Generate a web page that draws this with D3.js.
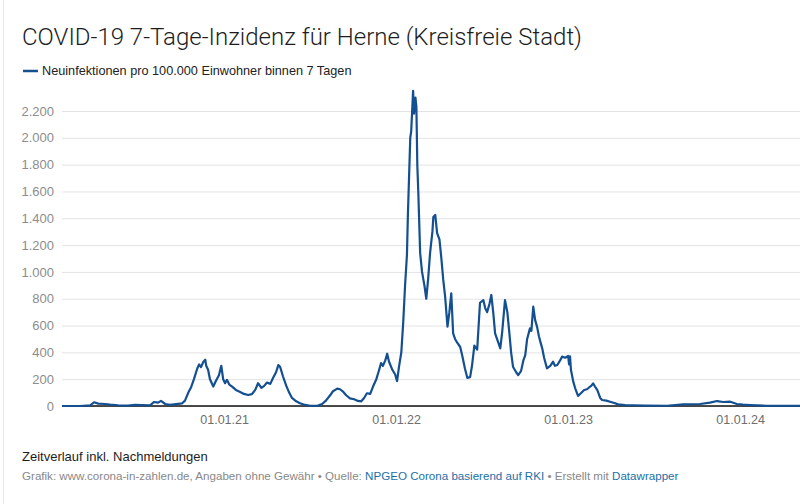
<!DOCTYPE html>
<html>
<head>
<meta charset="utf-8">
<script src="https://cdn.jsdelivr.net/npm/d3@7"></script>
<style>
  body { margin: 0; background: #fff; }
  svg { display: block; font-family: "Liberation Sans", Arial, sans-serif; }
</style>
</head>
<body>
<div id="chart"></div>
<script>
// 7-day incidence Herne
const dates = [
  "2020-01-23","2020-03-01","2020-03-23","2020-03-31","2020-04-09","2020-04-23","2020-05-04","2020-05-21",
  "2020-06-11","2020-06-26","2020-07-11","2020-07-28","2020-08-05","2020-08-14","2020-08-20","2020-08-29",
  "2020-09-08","2020-09-21","2020-10-04","2020-10-10","2020-10-17","2020-10-23","2020-10-29","2020-11-05",
  "2020-11-09","2020-11-13","2020-11-18","2020-11-22","2020-11-24","2020-11-28","2020-12-02","2020-12-09",
  "2020-12-15","2020-12-21","2020-12-26","2020-12-30","2021-01-03","2021-01-07","2021-01-12","2021-01-18",
  "2021-01-26","2021-02-04","2021-02-12","2021-02-21","2021-03-01","2021-03-08","2021-03-14","2021-03-21",
  "2021-03-27","2021-04-02","2021-04-09","2021-04-15","2021-04-21","2021-04-26","2021-04-30","2021-05-06",
  "2021-05-13","2021-05-19","2021-05-25","2021-06-03","2021-06-11","2021-06-22","2021-07-03","2021-07-19",
  "2021-07-28","2021-08-05","2021-08-14","2021-08-20","2021-08-29","2021-09-04","2021-09-11","2021-09-17",
  "2021-09-25","2021-10-04","2021-10-12","2021-10-19","2021-10-25","2021-10-31","2021-11-07","2021-11-13",
  "2021-11-20","2021-11-26","2021-11-30","2021-12-04","2021-12-09","2021-12-13","2021-12-17","2021-12-24",
  "2021-12-30","2022-01-03","2022-01-07","2022-01-12","2022-01-16","2022-01-20","2022-01-24","2022-01-26",
  "2022-01-31","2022-02-02","2022-02-04","2022-02-06","2022-02-08","2022-02-11","2022-02-13","2022-02-15",
  "2022-02-17","2022-02-21","2022-02-25","2022-03-02","2022-03-06","2022-03-10","2022-03-14","2022-03-19",
  "2022-03-21","2022-03-25","2022-03-29","2022-04-03","2022-04-07","2022-04-11","2022-04-15","2022-04-20",
  "2022-04-24","2022-04-28","2022-05-02","2022-05-06","2022-05-11","2022-05-17","2022-05-21","2022-05-27",
  "2022-06-01","2022-06-07","2022-06-11","2022-06-16","2022-06-22","2022-06-28","2022-07-05","2022-07-09",
  "2022-07-13","2022-07-18","2022-07-22","2022-07-26","2022-07-30","2022-08-06","2022-08-10","2022-08-14",
  "2022-08-20","2022-08-25","2022-08-29","2022-09-02","2022-09-06","2022-09-13","2022-09-17","2022-09-23",
  "2022-09-28","2022-10-02","2022-10-06","2022-10-12","2022-10-15","2022-10-19","2022-10-23","2022-10-27",
  "2022-10-31","2022-11-03","2022-11-07","2022-11-11","2022-11-17","2022-11-24","2022-11-30","2022-12-04",
  "2022-12-09","2022-12-15","2022-12-19","2022-12-26","2023-01-01","2023-01-03","2023-01-05","2023-01-07",
  "2023-01-12","2023-01-16","2023-01-22","2023-01-28","2023-02-04","2023-02-10","2023-02-15","2023-02-19",
  "2023-02-23","2023-02-27","2023-03-04","2023-03-10","2023-03-14","2023-03-23","2023-03-31","2023-04-09",
  "2023-04-17","2023-05-02","2023-05-19","2023-06-13","2023-07-30","2023-09-02","2023-10-08","2023-10-29",
  "2023-11-13","2023-11-26","2023-12-11","2023-12-19","2023-12-25","2024-01-07","2024-01-22","2024-02-27",
  "2024-05-07"
];
const incidence = [
  0, 0, 5, 28, 18, 15, 10, 4,
  3, 8, 6, 5, 30, 25, 38, 15,
  8, 14, 20, 40, 100, 140, 200, 280,
  310, 290, 330, 345, 300, 270, 200, 145,
  190, 230, 300, 200, 170, 195, 160, 145,
  120, 105, 90, 82, 88, 120, 170, 135,
  150, 175, 165, 210, 250, 305, 290, 220,
  150, 100, 60, 35, 20, 8, 2, 3,
  15, 40, 80, 110, 130, 125, 105, 80,
  57, 50, 38, 35, 60, 95, 90, 145,
  200, 270, 320, 300, 340, 390, 330, 270,
  235, 185, 290, 400, 620, 900, 1130, 1430,
  2000, 2050, 2200, 2350, 2180, 2300, 2230, 1790,
  1600, 1140, 1000, 900, 800, 950, 1140, 1300,
  1410, 1425, 1290, 1240, 1100, 940, 815, 592,
  700, 840, 542, 500, 470, 440, 380, 280,
  210, 215, 300, 450, 420, 770, 790, 730,
  700, 760, 828, 700, 542, 470, 430, 550,
  790, 700, 554, 400, 293, 250, 231, 260,
  340, 380, 500, 579, 560, 741, 640, 592,
  520, 480, 430, 360, 281, 300, 330, 300,
  306, 340, 368, 360, 373, 310, 370, 268,
  180, 132, 75, 95, 119, 125, 140, 150,
  169, 145, 119, 60, 45, 40, 32, 22,
  12, 7, 5, 3, 2, 12, 15, 25,
  37, 30, 32, 22, 15, 10, 7, 2,
  2
];
const yTicks = [0, 200, 400, 600, 800, 1000, 1200, 1400, 1600, 1800, 2000, 2200];
const xTickDates = ["2021-01-01", "2022-01-01", "2023-01-01", "2024-01-01"];

const width = 800, height = 504;
const plot = { left: 62, right: 800, top: 111, bottom: 406 };
const parse = d3.timeParse("%Y-%m-%d");
const series = dates.map((d, i) => ({ date: parse(d), value: incidence[i] }));

const de = d3.formatLocale({ decimal: ",", thousands: ".", grouping: [3], currency: ["", " €"] });
const fmt = de.format(",");

const svg = d3.select("#chart").append("svg")
  .attr("width", width)
  .attr("height", height);

// faint frame on the left
svg.append("line")
  .attr("x1", 3.5).attr("x2", 3.5).attr("y1", 0).attr("y2", height)
  .attr("stroke", "#e6e6e6");

const x = d3.scaleTime()
  .domain(d3.extent(series, d => d.date))
  .range([plot.left, plot.right]);

const y = d3.scaleLinear()
  .domain([0, 2200])
  .range([plot.bottom, plot.top]);

// title + legend
svg.append("text")
  .attr("x", 22).attr("y", 45)
  .attr("font-family", "Roboto, sans-serif")
  .attr("font-weight", 300)
  .attr("font-size", 24)
  .attr("fill", "#1d1d1d")
  .text("COVID-19 7-Tage-Inzidenz für Herne (Kreisfreie Stadt)");

svg.append("line")
  .attr("x1", 23).attr("x2", 38).attr("y1", 71).attr("y2", 71)
  .attr("stroke", "#17508f").attr("stroke-width", 2.5);

svg.append("text")
  .attr("x", 42).attr("y", 75)
  .attr("font-size", 12.7)
  .attr("fill", "#222")
  .text("Neuinfektionen pro 100.000 Einwohner binnen 7 Tagen");

// y axis with grid
const yAxis = d3.axisLeft(y)
  .tickValues(yTicks)
  .tickFormat(fmt)
  .tickSize(-(plot.right - plot.left))
  .tickPadding(8);

const gy = svg.append("g")
  .attr("transform", `translate(${plot.left},0)`)
  .call(yAxis);
gy.select(".domain").remove();
gy.selectAll(".tick line").attr("stroke", "#e3e3e3");
gy.selectAll(".tick text")
  .attr("fill", "#8c8c8c")
  .attr("font-size", 13)
  .attr("font-family", "Liberation Sans, Arial, sans-serif");

// x axis
const xAxis = d3.axisBottom(x)
  .tickValues(xTickDates.map(parse))
  .tickFormat(d3.timeFormat("%d.%m.%y"))
  .tickSize(0)
  .tickPadding(9);

const gx = svg.append("g")
  .attr("transform", `translate(0,${plot.bottom})`)
  .call(xAxis);
gx.select(".domain").remove();
gx.selectAll(".tick text")
  .attr("fill", "#6e6e6e")
  .attr("font-size", 12.5)
  .attr("font-family", "Liberation Sans, Arial, sans-serif");

// baseline
svg.append("line")
  .attr("x1", plot.left).attr("x2", plot.right)
  .attr("y1", y(0)).attr("y2", y(0))
  .attr("stroke", "#111").attr("stroke-width", 1.5);

// the line
const line = d3.line()
  .x(d => x(d.date))
  .y(d => y(d.value));

svg.append("path")
  .datum(series)
  .attr("fill", "none")
  .attr("stroke", "#134f91")
  .attr("stroke-width", 2.2)
  .attr("stroke-linejoin", "round")
  .attr("d", line);

// notes
svg.append("text")
  .attr("x", 22).attr("y", 461)
  .attr("font-size", 13)
  .attr("fill", "#1d1d1d")
  .text("Zeitverlauf inkl. Nachmeldungen");

const foot = svg.append("text")
  .attr("x", 22).attr("y", 480)
  .attr("font-size", 11.6)
  .attr("fill", "#888");
foot.append("tspan").text("Grafik: www.corona-in-zahlen.de, Angaben ohne Gewähr • Quelle: ");
foot.append("tspan").attr("fill", "#1d6fa8").text("NPGEO Corona basierend auf RKI");
foot.append("tspan").text(" • Erstellt mit ");
foot.append("tspan").attr("fill", "#1d6fa8").text("Datawrapper");
</script>
</body>
</html>
